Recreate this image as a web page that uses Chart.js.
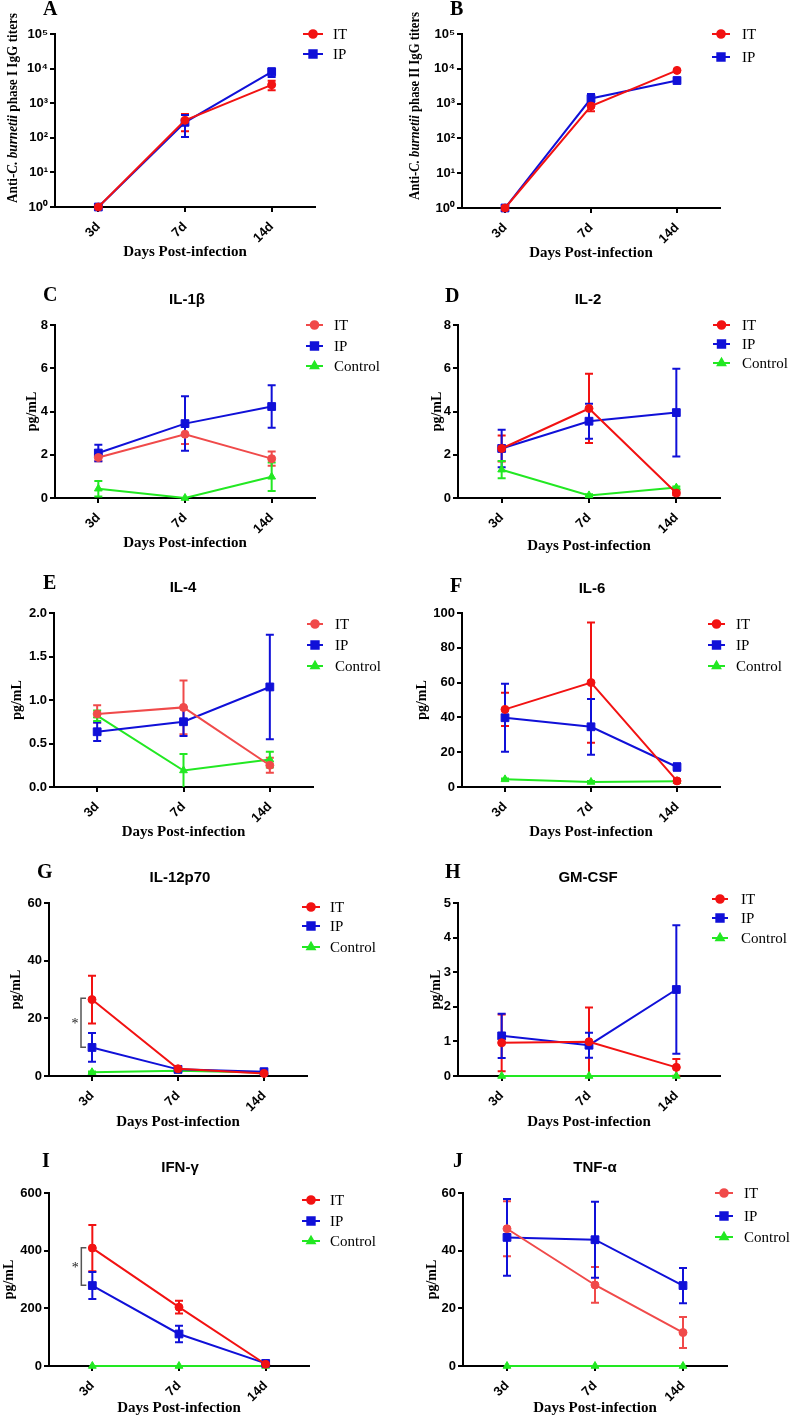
<!DOCTYPE html>
<html>
<head>
<meta charset="utf-8">
<script src="https://cdn.jsdelivr.net/npm/chart.js@4"></script>
<style>
  body { margin: 0; background: #fff; }
  #wrap { position: relative; width: 790px; height: 1416px; }
  canvas { position: absolute; }
</style>
</head>
<body>
<div id="wrap"></div>
<script>
// categories
const days = ['3d', '7d', '14d'];

// A: phase I IgG titers (mean, sem)
const aIT = [1, 320, 3400];      const aITerr = [0, 165, 1050];
const aIP = [1, 280, 8000];      const aIPerr = [0, 175, 2300];
// B: phase II IgG titers
const bIT = [1, 850, 9000];      const bITerr = [0, 250, 400];
const bIP = [1, 1400, 4600];     const bIPerr = [0, 500, 300];
// C: IL-1b
const cIT = [1.87, 2.95, 1.82];  const cITerr = [0.17, 0.45, 0.33];
const cIP = [2.08, 3.44, 4.23];  const cIPerr = [0.38, 1.26, 0.98];
const cCt = [0.43, 0.0, 0.98];   const cCterr = [0.36, 0, 0.66];
// D: IL-2
const dIT = [2.29, 4.14, 0.23];  const dITerr = [0.6, 1.6, 0.1];
const dIP = [2.29, 3.55, 3.95];  const dIPerr = [0.87, 0.81, 2.03];
const dCt = [1.31, 0.12, 0.48];  const dCterr = [0.4, 0.05, 0.05];
// E: IL-4
const eIT = [0.84, 0.915, 0.25]; const eITerr = [0.1, 0.31, 0.085];
const eIP = [0.635, 0.75, 1.15]; const eIPerr = [0.105, 0.165, 0.6];
const eCt = [0.82, 0.19, 0.315]; const eCterr = [0.06, 0.19, 0.09];
// F: IL-6
const fIT = [44.6, 60, 3.5];     const fITerr = [9.6, 34.6, 1];
const fIP = [39.8, 34.6, 11.5];  const fIPerr = [19.5, 16, 2.2];
const fCt = [4.4, 2.9, 3.3];     const fCterr = [0.5, 0.5, 0.5];
// G: IL-12p70
const gIT = [26.5, 2.5, 0.9];    const gITerr = [8.3, 0.5, 0.3];
const gIP = [9.9, 2.3, 1.5];     const gIPerr = [5.0, 0.5, 0.3];
const gCt = [1.3, 1.8, 1.2];     const gCterr = [0.3, 0.3, 0.3];
const gSig = [10, 27];
// H: GM-CSF
const hIT = [0.96, 0.99, 0.25];  const hITerr = [0.82, 0.99, 0.24];
const hIP = [1.16, 0.89, 2.5];   const hIPerr = [0.64, 0.36, 1.86];
const hCt = [0, 0, 0];           const hCterr = [0, 0, 0];
// I: IFN-g
const iIT = [409, 204, 6];       const iITerr = [80, 22, 3];
const iIP = [279, 111, 9];       const iIPerr = [47, 29, 3];
const iCt = [0, 0, 0];           const iCterr = [0, 0, 0];
const iSig = [280, 410];
// J: TNF-a
const jIT = [47.6, 28.1, 11.6];  const jITerr = [9.5, 6.2, 5.4];
const jIP = [44.6, 43.8, 27.9];  const jIPerr = [13.3, 13.2, 6.1];
const jCt = [0, 0, 0];           const jCterr = [0, 0, 0];

const SANS = "'Liberation Sans', Arial, sans-serif";
const SERIF = "'Liberation Serif', 'Times New Roman', serif";
const RED = '#f21212', LRED = '#f04a4a', BLUE = '#1010d8', GREEN = '#22e822';
const SUP = ['\u2070', '\u00b9', '\u00b2', '\u00b3', '\u2074', '\u2075'];

function series(it, itErr, ip, ipErr, ct, ctErr, itColor) {
  const s = [
    { label: 'IT', data: it, err: itErr, color: itColor || RED, style: 'circle', r: 4 },
    { label: 'IP', data: ip, err: ipErr, color: BLUE, style: 'rect', r: 5.5 }
  ];
  if (ct) s.push({ label: 'Control', data: ct, err: ctErr, color: GREEN, style: 'triangle', r: 4.5 });
  return s;
}

const panels = [
  { letter: 'A', col: 0, row: 0, area: [55, 34, 315, 207], log: true,
    ser: series(aIT, aITerr, aIP, aIPerr),
    ytitle: { parts: [['Anti-', false], ['C. burnetii', true], [' phase I IgG titers', false]], x: 13, y: 108, len: 190 },
    xTitleY: 252, letterPos: [43, 10], legend: { x1: 303, x2: 323, tx: 333, ys: [34, 54] } },
  { letter: 'B', col: 1, row: 0, area: [462, 34, 720, 208], log: true,
    ser: series(bIT, bITerr, bIP, bIPerr),
    ytitle: { parts: [['Anti-', false], ['C. burnetii', true], [' phase II IgG titers', false]], x: 415, y: 106, len: 188 },
    xTitleY: 253, letterPos: [450, 10], legend: { x1: 712, x2: 730, tx: 742, ys: [34, 57] } },
  { letter: 'C', col: 0, row: 1, area: [55, 325, 315, 498], max: 8, step: 2,
    ser: series(cIT, cITerr, cIP, cIPerr, cCt, cCterr, LRED), title: 'IL-1\u03b2', titlePos: [187, 300],
    yTitleX: 32, xTitleY: 543, letterPos: [43, 296], legend: { x1: 306, x2: 323, tx: 334, ys: [325, 346, 366] } },
  { letter: 'D', col: 1, row: 1, area: [458, 325, 720, 498], max: 8, step: 2,
    ser: series(dIT, dITerr, dIP, dIPerr, dCt, dCterr), title: 'IL-2', titlePos: [588, 300],
    yTitleX: 437, xTitleY: 546, letterPos: [445, 297], legend: { x1: 713, x2: 730, tx: 742, ys: [325, 344, 363] } },
  { letter: 'E', col: 0, row: 2, area: [54, 613, 313, 787], max: 2, step: 0.5, dec: 1,
    ser: series(eIT, eITerr, eIP, eIPerr, eCt, eCterr, LRED), title: 'IL-4', titlePos: [183, 588],
    yTitleX: 17, xTitleY: 832, letterPos: [43, 584], legend: { x1: 307, x2: 323, tx: 335, ys: [624, 645, 666] } },
  { letter: 'F', col: 1, row: 2, area: [462, 613, 720, 787], max: 100, step: 20,
    ser: series(fIT, fITerr, fIP, fIPerr, fCt, fCterr), title: 'IL-6', titlePos: [592, 589],
    yTitleX: 422, xTitleY: 832, letterPos: [450, 587], legend: { x1: 708, x2: 725, tx: 736, ys: [624, 645, 666] } },
  { letter: 'G', col: 0, row: 3, area: [49, 903, 307, 1076], max: 60, step: 20,
    ser: series(gIT, gITerr, gIP, gIPerr, gCt, gCterr), title: 'IL-12p70', titlePos: [180, 878], sig: gSig,
    yTitleX: 16, xTitleY: 1122, letterPos: [37, 873], legend: { x1: 302, x2: 320, tx: 330, ys: [907, 926, 947] } },
  { letter: 'H', col: 1, row: 3, area: [458, 903, 720, 1076], max: 5, step: 1,
    ser: series(hIT, hITerr, hIP, hIPerr, hCt, hCterr), title: 'GM-CSF', titlePos: [588, 878],
    yTitleX: 436, xTitleY: 1122, letterPos: [445, 873], legend: { x1: 712, x2: 728, tx: 741, ys: [899, 918, 938] } },
  { letter: 'I', col: 0, row: 4, area: [49, 1193, 309, 1366], max: 600, step: 200,
    ser: series(iIT, iITerr, iIP, iIPerr, iCt, iCterr), title: 'IFN-\u03b3', titlePos: [180, 1168], sig: iSig,
    yTitleX: 9, xTitleY: 1408, letterPos: [42, 1162], legend: { x1: 302, x2: 320, tx: 330, ys: [1200, 1221, 1241] } },
  { letter: 'J', col: 1, row: 4, area: [463, 1193, 727, 1366], max: 60, step: 20,
    ser: series(jIT, jITerr, jIP, jIPerr, jCt, jCterr, LRED), title: 'TNF-\u03b1', titlePos: [595, 1168],
    yTitleX: 432, xTitleY: 1408, letterPos: [453, 1162], legend: { x1: 715, x2: 733, tx: 744, ys: [1193, 1216, 1237] } }
];

const rows = [[0, 270], [270, 560], [560, 840], [840, 1130], [1130, 1416]];

function drawMarker(ctx, style, x, y, r) {
  Chart.helpers.drawPoint(ctx, { pointStyle: style, radius: r, rotation: 0, borderWidth: 1 }, x, y);
}

// error bars under the lines
const errorBars = {
  id: 'errorBars',
  beforeDatasetsDraw(chart) {
    const ctx = chart.ctx, y = chart.scales.y;
    chart.data.datasets.forEach((ds, i) => {
      const meta = chart.getDatasetMeta(i);
      ctx.save();
      ctx.strokeStyle = ds.borderColor;
      ctx.lineWidth = 2;
      ds.err.forEach((e, j) => {
        if (!e) return;
        const pt = meta.data[j], v = ds.data[j];
        const yt = y.getPixelForValue(v + e), yb = y.getPixelForValue(Math.max(v - e, y.min));
        ctx.beginPath();
        ctx.moveTo(pt.x, yt); ctx.lineTo(pt.x, yb);
        ctx.moveTo(pt.x - 4, yt); ctx.lineTo(pt.x + 4, yt);
        if (v - e > y.min) { ctx.moveTo(pt.x - 4, yb); ctx.lineTo(pt.x + 4, yb); }
        ctx.stroke();
      });
      ctx.restore();
    });
  }
};

// letters, titles, legends, brackets
const decor = {
  id: 'decor',
  afterDraw(chart) {
    const p = chart.options.plugins.decor.p;
    const ox = p.ox, oy = p.oy, ctx = chart.ctx;
    ctx.save();
    ctx.fillStyle = '#000';
    ctx.textBaseline = 'middle';
    ctx.font = 'bold 20px ' + SERIF;
    ctx.textAlign = 'left';
    ctx.fillText(p.letter, p.letterPos[0] - ox, p.letterPos[1] - oy);
    if (p.title) {
      ctx.font = 'bold 15px ' + SANS;
      ctx.textAlign = 'center';
      ctx.fillText(p.title, p.titlePos[0] - ox, p.titlePos[1] - oy);
    }
    if (p.ytitle) {
      const t = p.ytitle;
      const fonts = t.parts.map(q => (q[1] ? 'italic bold 14px ' : 'bold 14px ') + SERIF);
      let total = 0;
      const ws = t.parts.map((q, k) => { ctx.font = fonts[k]; const w = ctx.measureText(q[0]).width; total += w; return w; });
      const k = Math.min(1, t.len / total);
      ctx.translate(t.x - ox, t.y - oy);
      ctx.rotate(-Math.PI / 2);
      ctx.scale(k, 1);
      ctx.textAlign = 'left';
      let cx = -total / 2;
      t.parts.forEach((q, i) => { ctx.font = fonts[i]; ctx.fillText(q[0], cx, 0); cx += ws[i]; });
      ctx.setTransform(1, 0, 0, 1, 0, 0);
    }
    // legend
    const lg = p.legend;
    p.ser.forEach((s, i) => {
      const ly = lg.ys[i] - oy;
      ctx.strokeStyle = s.color; ctx.fillStyle = s.color; ctx.lineWidth = 2;
      ctx.beginPath(); ctx.moveTo(lg.x1 - ox, ly); ctx.lineTo(lg.x2 - ox, ly); ctx.stroke();
      drawMarker(ctx, s.style, (lg.x1 + lg.x2) / 2 - ox, ly, s.r * 0.95);
      ctx.fillStyle = '#000';
      ctx.font = '15px ' + SERIF;
      ctx.textAlign = 'left';
      ctx.fillText(s.label, lg.tx - ox, ly + 1);
    });
    // significance bracket
    if (p.sig) {
      const y = chart.scales.y, x = chart.scales.x;
      const bx = x.getPixelForValue(0) - 11;
      const y1 = y.getPixelForValue(p.sig[1]), y2 = y.getPixelForValue(p.sig[0]);
      ctx.strokeStyle = '#555'; ctx.lineWidth = 1.5;
      ctx.beginPath();
      ctx.moveTo(bx + 5, y1); ctx.lineTo(bx, y1); ctx.lineTo(bx, y2); ctx.lineTo(bx + 5, y2);
      ctx.stroke();
      ctx.fillStyle = '#222'; ctx.font = '14px ' + SERIF; ctx.textAlign = 'center';
      ctx.fillText('*', bx - 6, (y1 + y2) / 2 + 2);
    }
    ctx.restore();
  }
};

function makePanel(p) {
  const cx0 = p.col * 395, cw = 395;
  const cy0 = rows[p.row][0], ch = rows[p.row][1] - rows[p.row][0];
  p.ox = cx0; p.oy = cy0;
  const [L, T, R, B] = p.area;
  const pl = p.log ? 0 : Math.max(0, p.yTitleX - 7 - cx0);
  const yw = L - cx0 - pl;
  const xBottom = p.xTitleY + 7.5;
  const pb = Math.max(0, cy0 + ch - xBottom);
  const xh = (cy0 + ch - pb) - B;

  const cv = document.createElement('canvas');
  cv.width = cw; cv.height = ch;
  cv.style.left = cx0 + 'px'; cv.style.top = cy0 + 'px';
  cv.style.width = cw + 'px'; cv.style.height = ch + 'px';
  document.getElementById('wrap').appendChild(cv);

  const axisGrid = { display: true, drawOnChartArea: false, drawTicks: true, tickLength: 5, color: '#000', lineWidth: 2 };
  const yScale = p.log ? {
    type: 'logarithmic', min: 1, max: 100000,
    afterBuildTicks: s => { s.ticks = [1, 10, 100, 1000, 10000, 100000].map(v => ({ value: v })); },
    ticks: { callback: v => '10' + SUP[Math.round(Math.log10(v))], font: { family: SANS, weight: 'bold', size: 13 }, color: '#000', padding: 2 }
  } : {
    type: 'linear', min: 0, max: p.max,
    ticks: { stepSize: p.step, callback: v => p.dec ? v.toFixed(p.dec) : v, font: { family: SANS, weight: 'bold', size: 13 }, color: '#000', padding: 2 },
    title: { display: true, text: 'pg/mL', font: { family: SERIF, weight: 'bold', size: 14, lineHeight: 1 }, color: '#000', padding: 0 }
  };
  Object.assign(yScale, { grid: axisGrid, border: { display: true, color: '#000', width: 2 }, afterFit: s => { s.width = yw; } });

  new Chart(cv, {
    type: 'line',
    data: {
      labels: days,
      datasets: p.ser.map(s => ({
        label: s.label, data: s.data, err: s.err,
        borderColor: s.color, backgroundColor: s.color, borderWidth: 2,
        pointStyle: s.style, pointRadius: s.r, pointBorderWidth: 1,
        pointBackgroundColor: s.color, pointBorderColor: s.color,
        tension: 0, clip: false
      }))
    },
    options: {
      responsive: false, animation: false, devicePixelRatio: 1,
      layout: { padding: { left: pl, top: T - cy0, right: cx0 + cw - R, bottom: pb } },
      plugins: { legend: { display: false }, title: { display: false }, tooltip: { enabled: false }, decor: { p } },
      scales: {
        x: {
          type: 'category', offset: true,
          grid: Object.assign({}, axisGrid, { offset: false }),
          border: { display: true, color: '#000', width: 2 },
          ticks: { minRotation: 45, maxRotation: 45, font: { family: SANS, weight: 'bold', size: 13 }, color: '#000', padding: 7 },
          title: { display: true, text: 'Days Post-infection', font: { family: SERIF, weight: 'bold', size: 15, lineHeight: 1 }, color: '#000', padding: 0 },
          afterFit: s => { s.height = xh; }
        },
        y: yScale
      }
    },
    plugins: [errorBars, decor]
  });
}

panels.forEach(makePanel);
</script>
</body>
</html>
